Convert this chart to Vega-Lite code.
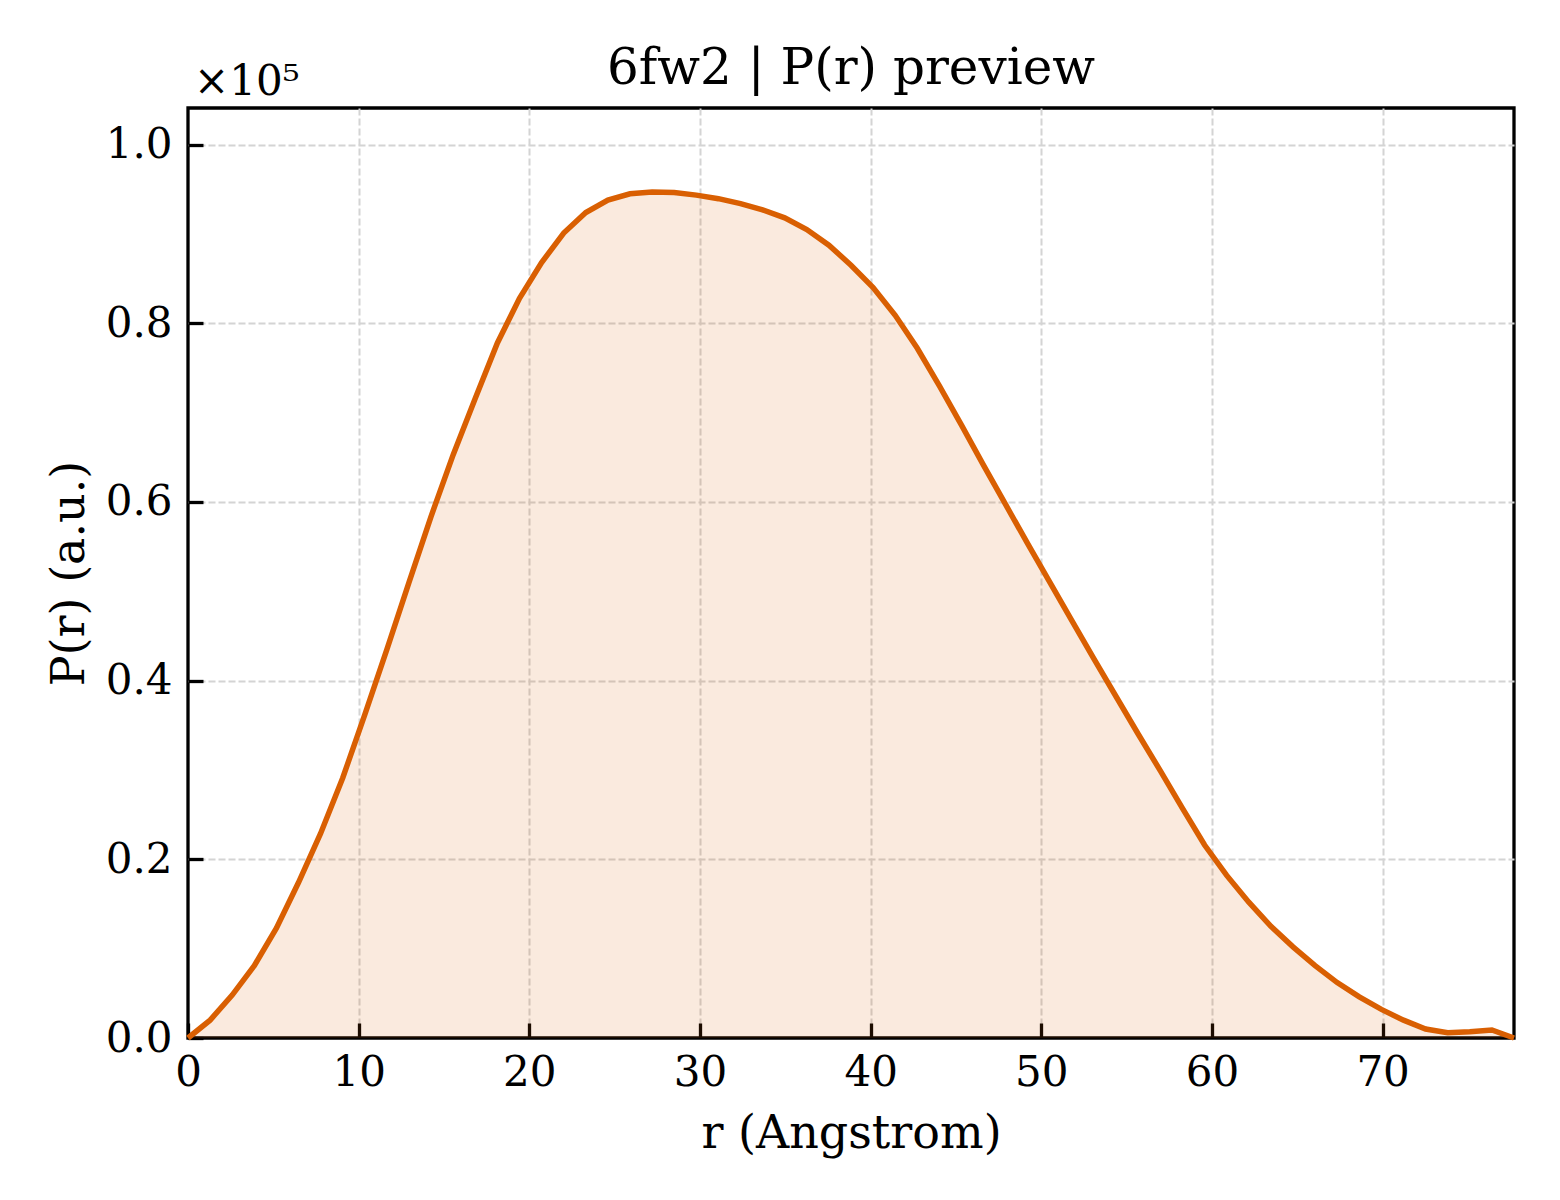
{
  "$schema": "https://vega.github.io/schema/vega-lite/v6.json",
  "description": "P(r) preview for 6fw2",
  "width": 1326,
  "height": 930,
  "autosize": {"type": "none"},
  "padding": {"left": 188, "top": 108, "right": 46, "bottom": 162},
  "background": "white",
  "title": {
    "text": "6fw2 | P(r) preview",
    "frame": "group",
    "anchor": "middle",
    "baseline": "alphabetic",
    "offset": -73,
    "font": "DejaVu Serif",
    "fontSize": 50,
    "fontWeight": "normal",
    "color": "black"
  },
  "data": {
    "values": [
      {"r": 0.0, "p": 0},
      {"r": 1.295, "p": 2000},
      {"r": 2.59, "p": 4800},
      {"r": 3.885, "p": 8100},
      {"r": 5.18, "p": 12300},
      {"r": 6.475, "p": 17400},
      {"r": 7.77, "p": 22900},
      {"r": 9.065, "p": 29100},
      {"r": 10.36, "p": 36200},
      {"r": 11.655, "p": 43500},
      {"r": 12.95, "p": 51000},
      {"r": 14.245, "p": 58400},
      {"r": 15.54, "p": 65300},
      {"r": 16.835, "p": 71600},
      {"r": 18.13, "p": 77800},
      {"r": 19.425, "p": 82800},
      {"r": 20.72, "p": 86800},
      {"r": 22.015, "p": 90100},
      {"r": 23.31, "p": 92400},
      {"r": 24.605, "p": 93800},
      {"r": 25.9, "p": 94500},
      {"r": 27.195, "p": 94700},
      {"r": 28.49, "p": 94650},
      {"r": 29.785, "p": 94350},
      {"r": 31.08, "p": 93950},
      {"r": 32.375, "p": 93400},
      {"r": 33.67, "p": 92700},
      {"r": 34.965, "p": 91800},
      {"r": 36.26, "p": 90500},
      {"r": 37.555, "p": 88750},
      {"r": 38.85, "p": 86500},
      {"r": 40.145, "p": 84000},
      {"r": 41.44, "p": 80900},
      {"r": 42.735, "p": 77200},
      {"r": 44.03, "p": 73000},
      {"r": 45.325, "p": 68600},
      {"r": 46.62, "p": 64100},
      {"r": 47.915, "p": 59700},
      {"r": 49.21, "p": 55300},
      {"r": 50.505, "p": 51000},
      {"r": 51.8, "p": 46700},
      {"r": 53.095, "p": 42400},
      {"r": 54.39, "p": 38200},
      {"r": 55.685, "p": 34000},
      {"r": 56.98, "p": 29900},
      {"r": 58.275, "p": 25700},
      {"r": 59.57, "p": 21600},
      {"r": 60.865, "p": 18200},
      {"r": 62.16, "p": 15200},
      {"r": 63.455, "p": 12500},
      {"r": 64.75, "p": 10200},
      {"r": 66.045, "p": 8100},
      {"r": 67.34, "p": 6200},
      {"r": 68.635, "p": 4600},
      {"r": 69.93, "p": 3200},
      {"r": 71.225, "p": 2000},
      {"r": 72.52, "p": 1000},
      {"r": 73.815, "p": 600},
      {"r": 75.11, "p": 700},
      {"r": 76.405, "p": 900},
      {"r": 77.7, "p": 0}
    ]
  },
  "layer": [
    {
      "mark": {"type": "area", "color": "#d95f02", "opacity": 0.13},
      "encoding": {
        "x": {
          "field": "r",
          "type": "quantitative",
          "title": "r (Angstrom)",
          "scale": {"domain": [0, 77.7], "nice": false, "zero": false},
          "axis": {"values": [0, 10, 20, 30, 40, 50, 60, 70], "labelPadding": 29, "titlePadding": 18}
        },
        "y": {
          "field": "p",
          "type": "quantitative",
          "title": "P(r) (a.u.)",
          "scale": {"domain": [0, 104100], "nice": false},
          "axis": {
            "values": [0, 20000, 40000, 60000, 80000, 100000],
            "labelExpr": "format(datum.value / 100000, '.1f')",
            "labelPadding": 31,
            "titlePadding": 12
          }
        }
      }
    },
    {
      "mark": {"type": "line", "color": "#d95f02", "strokeWidth": 5.5},
      "encoding": {
        "x": {"field": "r", "type": "quantitative"},
        "y": {"field": "p", "type": "quantitative"}
      }
    },
    {
      "data": {"values": [{"label": "×10⁵"}]},
      "mark": {
        "type": "text",
        "align": "left",
        "baseline": "alphabetic",
        "dx": 6,
        "dy": -13,
        "font": "DejaVu Serif",
        "fontSize": 42,
        "color": "black"
      },
      "encoding": {
        "x": {"datum": 0, "type": "quantitative"},
        "y": {"datum": 104100, "type": "quantitative"},
        "text": {"field": "label", "type": "nominal"}
      }
    }
  ],
  "config": {
    "view": {"stroke": "black", "strokeWidth": 3.3},
    "axis": {
      "domain": false,
      "ticks": true,
      "tickSize": -15,
      "tickWidth": 3.3,
      "tickColor": "black",
      "grid": true,
      "gridColor": "#d4d4d4",
      "gridDash": [7, 3],
      "gridWidth": 2,
      "gridOpacity": {"condition": {"test": "datum.value === 0", "value": 0}, "value": 1},
      "labelFont": "DejaVu Serif",
      "labelFontSize": 42,
      "labelColor": "black",
      "labelFlush": false,
      "labelOverlap": false,
      "titleFont": "DejaVu Serif",
      "titleFontSize": 46,
      "titleFontWeight": "normal",
      "titleColor": "black"
    }
  }
}
